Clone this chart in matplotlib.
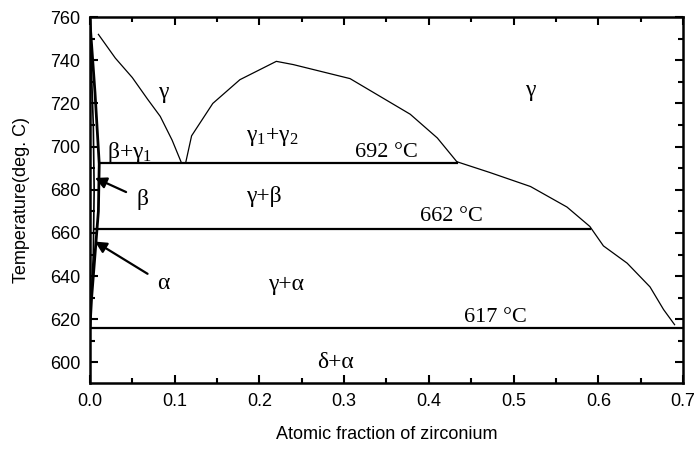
import matplotlib.pyplot as plt
from matplotlib.ticker import MultipleLocator

plt.rcParams['mathtext.fontset'] = 'custom'
plt.rcParams['mathtext.rm'] = 'Liberation Serif'
plt.rcParams['mathtext.it'] = 'Liberation Serif:italic'

# phase boundary curves
liq_x = [0.010, 0.030, 0.050, 0.068, 0.083, 0.097, 0.108]
liq_t = [752, 741, 732, 722, 714, 703, 692.5]

dome_x = [0.113, 0.120, 0.145, 0.177, 0.220, 0.240, 0.307, 0.378, 0.410, 0.433]
dome_t = [692.5, 705, 720, 731, 739.5, 738, 731.5, 715, 704, 693]

right_x = [0.433, 0.472, 0.520, 0.563, 0.590, 0.606, 0.634, 0.661, 0.677, 0.690]
right_t = [693, 688, 681.5, 672, 663, 654, 646, 635, 624.5, 617.5]

# thick solubility lines near pure Al side
edge1_x = [0.000, 0.006, 0.011, 0.010, 0.006, 0.002, 0.000]
edge1_t = [758, 725, 692, 670, 650, 630, 616]
edge2_x = [0.000, 0.004, 0.005, 0.004, 0.001]
edge2_t = [755, 710, 680, 650, 625]

# invariant temperatures and their extents
iso_t = [692.5, 662, 616]
iso_x0 = [0.012, 0.006, 0.003]
iso_x1 = [0.433, 0.590, 0.700]
iso_labels = ['692 \u00b0C', '662 \u00b0C', '617 \u00b0C']
iso_lx = [0.350, 0.427, 0.478]
iso_ly = [697.5, 667.5, 621]

# phase region labels
reg_labels = ['\u03b3', '\u03b3', '\u03b2+\u03b3$_1$', '\u03b3$_1$+\u03b3$_2$', '\u03b3+\u03b2', '\u03b3+\u03b1', '\u03b4+\u03b1']
reg_x = [0.087, 0.520, 0.047, 0.215, 0.205, 0.232, 0.290]
reg_t = [725, 726, 697.5, 704.5, 677, 636, 600]

fig = plt.figure(figsize=(6.97, 4.5), dpi=100)
ax = fig.add_axes([0.129, 0.149, 0.851, 0.813])

ax.plot(liq_x, liq_t, color='black', lw=0.9)
ax.plot(dome_x, dome_t, color='black', lw=0.9)
ax.plot(right_x, right_t, color='black', lw=0.9)
ax.plot(edge1_x, edge1_t, color='black', lw=2.0)
ax.plot(edge2_x, edge2_t, color='black', lw=1.2)

for t, a, b in zip(iso_t, iso_x0, iso_x1):
    ax.plot([a, b], [t, t], color='black', lw=1.6)

serif = ['Liberation Serif', 'DejaVu Serif']
for s, x, y in zip(iso_labels, iso_lx, iso_ly):
    ax.text(x, y, s, fontsize=16, family=serif, ha='center', va='center')

for s, x, y in zip(reg_labels, reg_x, reg_t):
    ax.text(x, y, s, fontsize=17, family=serif, ha='center', va='center')

# arrows pointing to the beta and alpha phases
ax.annotate('\u03b2', xy=(0.006, 685.5), xytext=(0.062, 675.5), fontsize=17, family=serif,
            ha='center', va='center',
            arrowprops=dict(arrowstyle='-|>', color='black', lw=1.6, shrinkA=6, shrinkB=0))
ax.annotate('\u03b1', xy=(0.006, 656), xytext=(0.087, 636.5), fontsize=17, family=serif,
            ha='center', va='center',
            arrowprops=dict(arrowstyle='-|>', color='black', lw=1.6, shrinkA=6, shrinkB=0))

ax.set_xlim(0, 0.7)
ax.set_ylim(590.5, 760)
ax.xaxis.set_major_locator(MultipleLocator(0.1))
ax.xaxis.set_minor_locator(MultipleLocator(0.05))
ax.yaxis.set_major_locator(MultipleLocator(20))
ax.yaxis.set_minor_locator(MultipleLocator(10))
ax.set_xticklabels([f'{v:.1f}' for v in ax.get_xticks()])
ax.tick_params(which='both', direction='in', top=True, right=True, width=1.5)
ax.tick_params(which='major', length=6, labelsize=13, pad=7)
ax.tick_params(which='minor', length=3.5)
for lab in ax.get_xticklabels() + ax.get_yticklabels():
    lab.set_family('Liberation Sans')
for sp in ax.spines.values():
    sp.set_linewidth(1.8)

ax.set_xlabel('Atomic fraction of zirconium', fontsize=13, family='Liberation Sans', labelpad=12)
ax.set_ylabel('Temperature(deg. C)', fontsize=13, family='Liberation Sans', labelpad=14)

fig.savefig('out.png', dpi=100)
